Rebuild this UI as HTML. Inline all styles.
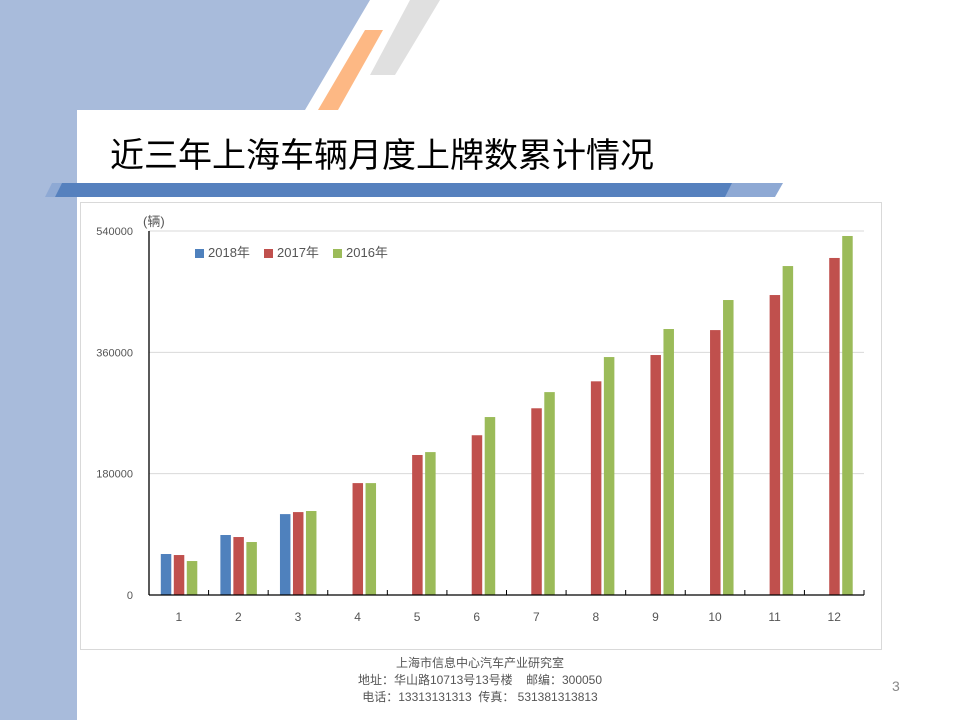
<!DOCTYPE html>
<html><head><meta charset="utf-8"><style>
body{margin:0;width:960px;height:720px;overflow:hidden;background:#fff;font-family:"Liberation Sans","Noto Sans CJK SC",sans-serif;position:relative}
.ab{position:absolute}
</style></head><body>
<svg class="ab" style="left:0;top:0" width="960" height="720">
<polygon points="0,0 370,0 305,110 77,110 77,720 0,720" fill="#a8bbdb"/>
<polygon points="410,0 440,0 395,75 370,75" fill="#e0e0e0"/>
<polygon points="365,30 383,30 338,110 318,110" fill="#fdb884"/>
<path d="M77,720 L77,122 Q77,110 89,110 L960,110 L960,720 Z" fill="#fff"/>
<polygon points="52,183 783,183 775,197 45,197" fill="#8ea9d4"/>
<polygon points="62,183 732,183 725,197 55,197" fill="#5681be"/>
<rect x="80.5" y="202.5" width="801" height="447" fill="#fff" stroke="#d9d9d9"/>
</svg>
<div class="ab" style="left:110px;top:128px;font-size:34px;color:#000;white-space:nowrap">近三年上海车辆月度上牌数累计情况</div>
<svg id="chart" class="ab" style="left:0;top:0" width="960" height="720"></svg>
<div class="ab" style="left:280px;width:400px;top:655px;text-align:center;font-size:12px;line-height:17px;color:#555">上海市信息中心汽车产业研究室<br>地址：华山路10713号13号楼 &nbsp;&nbsp; 邮编：300050<br>电话：13313131313 &nbsp;传真： 531381313813</div>
<div class="ab" style="left:892px;top:678px;font-size:14px;color:#888">3</div>
<script>
const categories=["1","2","3","4","5","6","7","8","9","10","11","12"];
const seriesNames=["2018年","2017年","2016年"];
const s2018=[60800,89000,120000,null,null,null,null,null,null,null,null,null];
const s2017=[59300,86000,123000,166000,207700,237000,277000,317000,356000,393000,445000,500000];
const s2016=[50400,78600,124600,166000,212000,264000,301000,353000,394600,437600,488000,532600];
const yTicks=[0,180000,360000,540000];
const colors=["#4f81bd","#c0504d","#9bbb59"];
const NS="http://www.w3.org/2000/svg";
const svg=document.getElementById('chart');
const X0=149,X1=864,Y0=595,Y1=231,YMAX=540000;
const bw=(X1-X0)/categories.length;
const y=v=>Y0-(v/YMAX)*(Y0-Y1);
const xc=i=>X0+(i+0.5)*bw;
function mk(t,a){const e=document.createElementNS(NS,t);for(const k in a)e.setAttribute(k,a[k]);svg.appendChild(e);return e;}
yTicks.forEach(v=>{
 if(v>0){const g=mk('line',{x1:X0,x2:X1,y1:y(v),y2:y(v),stroke:'#d9d9d9'});
 
 }
 const t=mk('text',{x:133,y:y(v)+4,'text-anchor':'end','font-size':11,fill:'#555'});
 t.textContent=v;
 
 
});
const series=[s2018,s2017,s2016];
series.forEach((s,si)=>{
 s.forEach((v,i)=>{
  if(v==null)return;
  const r=mk('rect',{x:xc(i)+(si-1)*13-5,y:y(v),width:10.5,height:Y0-y(v),fill:colors[si]});
  
  
 });
});
const ax=mk('line',{x1:X0,x2:X1,y1:Y0,y2:Y0,stroke:'#000','stroke-width':1.3});


const ay=mk('line',{x1:X0,x2:X0,y1:Y1,y2:Y0,stroke:'#000','stroke-width':1.3});


categories.forEach((c,i)=>{
 const tk=mk('line',{x1:X0+(i+1)*bw,x2:X0+(i+1)*bw,y1:Y0,y2:Y0-5,stroke:'#000'});
 
 
 const t=mk('text',{x:xc(i),y:621,'text-anchor':'middle','font-size':12,fill:'#555'});
 t.textContent=c;
 
 
});
const ut=mk('text',{x:143,y:226,'font-size':13,fill:'#555'});
ut.textContent='(辆)';


const lx=[195,264,333];
seriesNames.forEach((n,i)=>{
 const r=mk('rect',{x:lx[i],y:249,width:9,height:9,fill:colors[i]});
 
 
 const t=mk('text',{x:lx[i]+13,y:257,'font-size':13,fill:'#555'});
 t.textContent=n;
 
 
});
</script>
</body></html>
